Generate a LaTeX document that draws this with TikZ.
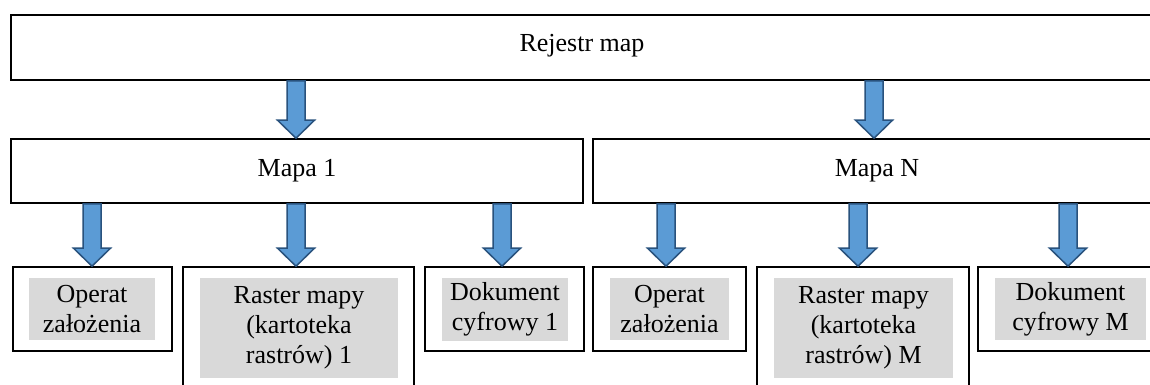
\documentclass[tikz,border=0pt]{standalone}
\usepackage{fontspec}
\setmainfont{Liberation Serif}
\usetikzlibrary{calc}
\definecolor{arrfill}{HTML}{5B9BD5}
\definecolor{arrline}{HTML}{29527D}
\definecolor{graybg}{HTML}{D9D9D9}
\newcommand\blockarr[3]{%
  \draw[barrow] let \p1=(#2.south), \p2=(#3.north) in
    (#1-9,\y1) -- (#1+9,\y1) -- (#1+9,\y2+18) -- (#1+18.5,\y2+18) -- (#1,\y2)
    -- (#1-18.5,\y2+18) -- (#1-9,\y2+18) -- cycle;}
\begin{document}
\begin{tikzpicture}[x=1pt,y=1pt,
  font=\fontsize{26}{30}\selectfont,
  outer/.style={draw=black,line width=1.6pt,inner sep=0pt,anchor=center},
  graybox/.style={fill=graybg,inner sep=0pt,align=center,anchor=center},
  barrow/.style={fill=arrfill,draw=arrline,line width=1.5pt,line join=miter}]
\useasboundingbox (0,0) rectangle (1150,385);
\clip (0,0) rectangle (1150,385);
\fill[white] (0,0) rectangle (1150,385);
% top
\node[outer,minimum width=1149,minimum height=65] (top) at (585.5,337.5) {};
\node at (582,339) {Rejestr map};
% middle
\node[outer,minimum width=572,minimum height=64] (m1) at (297,214) {Mapa 1};
\node[outer,minimum width=568,minimum height=64] (mN) at (877,214) {Mapa N};
% bottom outer boxes
\node[outer,minimum width=159,minimum height=84] (b1) at (92.5,76) {};
\node[outer,minimum width=231,minimum height=133] (b2) at (298.5,51.5) {};
\node[outer,minimum width=159,minimum height=84] (b3) at (504.5,76) {};
\node[outer,minimum width=153,minimum height=84] (b4) at (669.5,76) {};
\node[outer,minimum width=212,minimum height=133] (b5) at (863,51.5) {};
\node[outer,minimum width=183,minimum height=84] (b6) at (1069.5,76) {};
% gray inner boxes
\node[graybox,minimum width=126,minimum height=62] (g1) at (92,76) {Operat\\założenia};
\node[graybox,minimum width=198,minimum height=100] (g2) at (299,57) {Raster mapy\\(kartoteka\\rastrów) 1};
\node[graybox,minimum width=126,minimum height=63] (g3) at (505,75.5) {Dokument\\cyfrowy 1};
\node[graybox,minimum width=119,minimum height=62] (g4) at (669.5,76) {Operat\\założenia};
\node[graybox,minimum width=179,minimum height=100] (g5) at (863.5,57) {Raster mapy\\(kartoteka\\rastrów) M};
\node[graybox,minimum width=151,minimum height=62] (g6) at (1070.5,76) {Dokument\\cyfrowy M};
% arrows
\blockarr{296}{top}{m1}
\blockarr{874}{top}{mN}
\blockarr{92}{m1}{b1}
\blockarr{296}{m1}{b2}
\blockarr{502}{m1}{b3}
\blockarr{666}{mN}{b4}
\blockarr{858}{mN}{b5}
\blockarr{1068}{mN}{b6}
\end{tikzpicture}
\end{document}
